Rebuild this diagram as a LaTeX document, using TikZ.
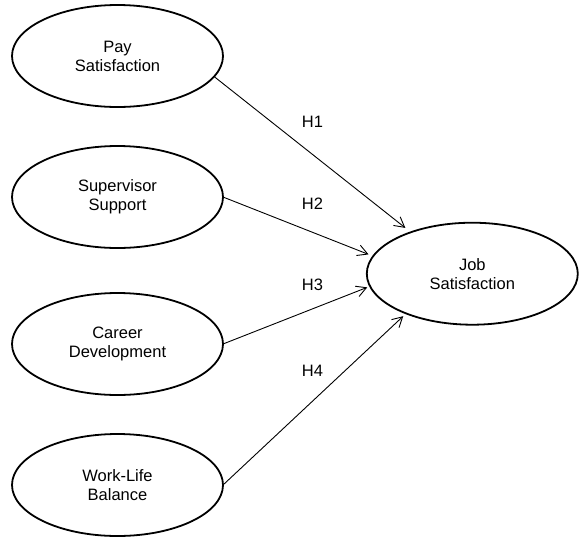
\documentclass[tikz,border=0pt]{standalone}
\usepackage{fontspec}
\setmainfont{Liberation Sans}
\usetikzlibrary{arrows.meta,shapes.geometric}
\begin{document}
\begin{tikzpicture}[x=1pt,y=-1pt,
  construct/.style={ellipse,draw,line width=1.8pt,minimum width=211pt,minimum height=102pt,inner sep=0pt,outer sep=0pt,align=center,font=\fontsize{16.5}{19}\selectfont},
  hyp/.style={font=\fontsize{16.5}{19}\selectfont,inner sep=0pt},
  arr/.style={line width=0.9pt,-{Straight Barb[length=10pt,width=11pt]}}]
\useasboundingbox (0,0) rectangle (587,542);
\node[construct] (pay) at (117.5,56) {Pay\\Satisfaction};
\node[construct] (sup) at (117.5,197) {Supervisor\\Support};
\node[construct] (car) at (117.5,344) {Career\\Development};
\node[construct] (wlb) at (117.5,485) {Work-Life\\Balance};
\node[construct] (job) at (472.3,273.7) {Job\\Satisfaction};
\draw[arr,shorten >=7pt] (pay.-12) -- (job.146.1);
\draw[arr,shorten >=5pt] (sup.east) -- (job.170.3);
\draw[arr,shorten >=3pt] (car.east) -- (job.187);
\draw[arr,shorten >=4pt] (wlb.east) -- (job.211.5);
\node[hyp] (h1) at (312.5,122) {H1};
\node[hyp] (h2) at (312.5,204) {H2};
\node[hyp] (h3) at (312.5,285) {H3};
\node[hyp] (h4) at (312.5,371) {H4};
\end{tikzpicture}
\end{document}
